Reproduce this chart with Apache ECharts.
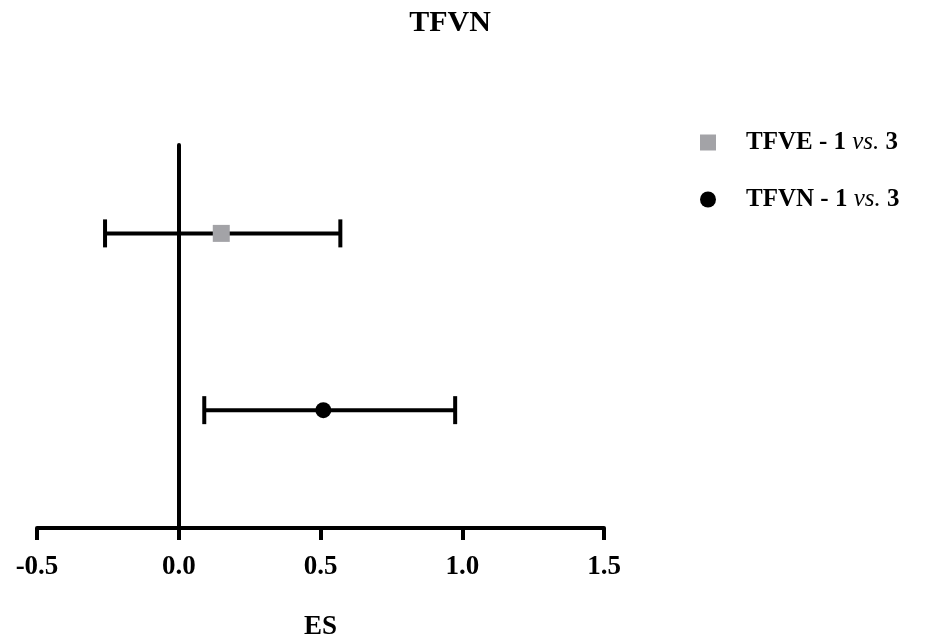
<!DOCTYPE html>
<html>
<head>
<meta charset="utf-8">
<script src="https://cdn.jsdelivr.net/npm/echarts@6/dist/echarts.min.js"></script>
<style>
  html, body { margin: 0; padding: 0; background: #fff; }
  #main { width: 944px; height: 639px; }
</style>
</head>
<body>
<div id="main"></div>
<script>
// rows of the forest plot
var names = ['TFVE - 1 vs. 3', 'TFVN - 1 vs. 3'];
var rowPos = [2.5, 1];
var es = [0.15, 0.51];
var ciLow = [-0.26, 0.09];
var ciHigh = [0.57, 0.975];

var serif = 'Liberation Serif';
var chart = echarts.init(document.getElementById('main'));

var barData = [];
for (var i = 0; i < names.length; i++) {
  barData.push([ciLow[i], ciHigh[i], rowPos[i]]);
}

// horizontal CI line with end caps
function renderBar(params, api) {
  var a = api.coord([api.value(0), api.value(2)]);
  var b = api.coord([api.value(1), api.value(2)]);
  var h = 14;
  var st = { stroke: '#000', lineWidth: 4 };
  return {
    type: 'group',
    children: [
      { type: 'line', shape: { x1: a[0], y1: a[1], x2: b[0], y2: b[1] }, style: st },
      { type: 'line', shape: { x1: a[0], y1: a[1] - h, x2: a[0], y2: a[1] + h }, style: st },
      { type: 'line', shape: { x1: b[0], y1: b[1] - h, x2: b[0], y2: b[1] + h }, style: st }
    ]
  };
}

var option = {
  animation: false,
  title: {
    text: 'TFVN',
    left: 450,
    top: 8,
    padding: 0,
    textAlign: 'center',
    textStyle: { fontFamily: serif, fontWeight: 'bold', fontSize: 30, color: '#000' }
  },
  legend: {
    left: 700,
    top: 130,
    padding: 0,
    orient: 'vertical',
    itemGap: 32,
    itemWidth: 16,
    itemHeight: 16,
    data: [
      { name: names[0], icon: 'rect' },
      { name: names[1], icon: 'circle' }
    ],
    formatter: function (n) {
      return n.replace('vs.', '{i|vs.}');
    },
    textStyle: {
      fontFamily: serif, fontWeight: 'bold', fontSize: 25, lineHeight: 25, color: '#000',
      padding: [0, 0, 0, 25],
      rich: {
        i: { fontFamily: serif, fontStyle: 'italic', fontWeight: 'normal', fontSize: 25, lineHeight: 25, color: '#000' }
      }
    }
  },
  grid: { left: 37, right: 340, top: 145, bottom: 111, outerBoundsMode: 'none', containLabel: false },
  xAxis: {
    type: 'value',
    min: -0.5,
    max: 1.5,
    interval: 0.5,
    name: 'ES',
    nameLocation: 'middle',
    nameGap: 86,
    nameTextStyle: { fontFamily: serif, fontWeight: 'bold', fontSize: 27, color: '#000' },
    splitLine: { show: false },
    axisLine: { onZero: false, lineStyle: { color: '#000', width: 4 } },
    axisTick: { length: 12, lineStyle: { color: '#000', width: 4 } },
    axisLabel: {
      margin: 26,
      fontFamily: serif, fontWeight: 'bold', fontSize: 27, color: '#000',
      formatter: function (v) { return v.toFixed(1); }
    }
  },
  yAxis: {
    type: 'value',
    min: 0,
    max: 3.25,
    splitLine: { show: false },
    axisLabel: { show: false },
    axisTick: { show: false },
    axisLine: { show: true, onZero: true, lineStyle: { color: '#000', width: 4 } }
  },
  series: [
    {
      type: 'custom',
      renderItem: renderBar,
      data: barData,
      encode: { x: [0, 1], y: 2 },
      silent: true,
      z: 2
    },
    {
      name: names[0],
      type: 'scatter',
      symbol: 'rect',
      symbolSize: 17,
      itemStyle: { color: '#a3a3a7', opacity: 1 },
      data: [[es[0], rowPos[0]]],
      z: 3
    },
    {
      name: names[1],
      type: 'scatter',
      symbol: 'circle',
      symbolSize: 16,
      itemStyle: { color: '#000', opacity: 1 },
      data: [[es[1], rowPos[1]]],
      z: 3
    }
  ]
};

chart.setOption(option);
</script>
</body>
</html>
